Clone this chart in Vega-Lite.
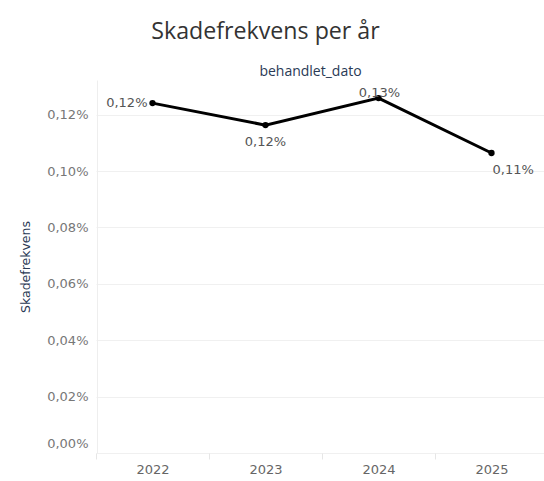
{
  "$schema": "https://vega.github.io/schema/vega-lite/v6.json",
  "width": 447,
  "height": 373,
  "autosize": {"type": "none"},
  "padding": {"left": 97, "top": 80, "right": 0, "bottom": 28},
  "background": "white",
  "title": {
    "text": "Skadefrekvens per år",
    "anchor": "middle",
    "frame": "group",
    "dx": -55,
    "fontSize": 23.2,
    "fontWeight": "normal",
    "font": "Open Sans",
    "color": "#333333",
    "offset": 20
  },
  "data": {
    "values": [
      {"aar": "2022", "skadefrekvens": 0.001241},
      {"aar": "2023", "skadefrekvens": 0.001163},
      {"aar": "2024", "skadefrekvens": 0.001259},
      {"aar": "2025", "skadefrekvens": 0.001064}
    ]
  },
  "layer": [
    {
      "encoding": {
        "x": {"field": "aar", "type": "ordinal",
          "scale": {"paddingInner": 0, "paddingOuter": 0, "range": [-1, 451]},
          "axis": {
            "orient": "bottom", "title": null, "tickBand": "extent",
            "labelAngle": 0, "grid": false, "domain": false, "ticks": true, "tickSize": 6,
            "tickColor": "#e6e6e6", "labelColor": "#666666", "labelFontSize": 13,
            "labelFont": "DejaVu Sans", "labelPadding": 4
          }},
        "y": {"field": "skadefrekvens", "type": "quantitative",
          "scale": {"domain": [0, 0.001323], "nice": false, "zero": true},
          "axis": {
            "title": "Skadefrekvens", "titleFont": "DejaVu Sans", "titleFontSize": 12.5,
            "titleFontWeight": "normal", "titleColor": "#2a3a55", "titlePadding": 14,
            "format": ".2%", "values": [0, 0.0002, 0.0004, 0.0006, 0.0008, 0.001, 0.0012],
            "labelColor": "#777777", "labelFontSize": 13, "labelFont": "DejaVu Sans",
            "labelPadding": 9, "ticks": false, "domain": true, "domainColor": "#eeeeee",
            "grid": true, "gridColor": "#f0f0f0", "labelFlush": false,
            "labelOffset": {"condition": {"test": "datum.value == 0", "value": -10}, "value": 0}
          }}
      },
      "layer": [
        {"mark": {"type": "line", "color": "black", "strokeWidth": 3}},
        {"mark": {"type": "point", "filled": true, "color": "black", "size": 40, "opacity": 1}},
        {
          "transform": [{"filter": "datum.aar == '2022'"}],
          "mark": {"type": "text", "align": "right", "baseline": "middle", "dx": -5, "fontSize": 13, "font": "DejaVu Sans", "color": "#555555"},
          "encoding": {"text": {"field": "skadefrekvens", "type": "quantitative", "format": ".2%"}}
        },
        {
          "transform": [{"filter": "datum.aar == '2023'"}],
          "mark": {"type": "text", "align": "center", "baseline": "middle", "dy": 17, "fontSize": 13, "font": "DejaVu Sans", "color": "#555555"},
          "encoding": {"text": {"field": "skadefrekvens", "type": "quantitative", "format": ".2%"}}
        },
        {
          "transform": [{"filter": "datum.aar == '2024'"}],
          "mark": {"type": "text", "align": "center", "baseline": "middle", "dy": -5, "dx": 1, "fontSize": 13, "font": "DejaVu Sans", "color": "#555555"},
          "encoding": {"text": {"field": "skadefrekvens", "type": "quantitative", "format": ".2%"}}
        },
        {
          "transform": [{"filter": "datum.aar == '2025'"}],
          "mark": {"type": "text", "align": "left", "baseline": "middle", "dy": 17, "dx": 1, "fontSize": 13, "font": "DejaVu Sans", "color": "#555555"},
          "encoding": {"text": {"field": "skadefrekvens", "type": "quantitative", "format": ".2%"}}
        }
      ]
    },
    {
      "mark": {"type": "text", "text": ""},
      "encoding": {
        "x": {"field": "aar", "type": "ordinal", "axis": {
          "orient": "top", "title": "behandlet_dato", "labels": false, "ticks": false,
          "domain": false, "grid": false, "titleFont": "Open Sans", "titleFontSize": 14,
          "titleFontWeight": "normal", "titleColor": "#2a3a55", "titlePadding": 2, "titleX": 213
        }}
      }
    }
  ],
  "config": {
    "locale": {"number": {"decimal": ",", "thousands": ".", "grouping": [3], "currency": ["kr ", ""]}},
    "view": {"stroke": null}
  }
}
